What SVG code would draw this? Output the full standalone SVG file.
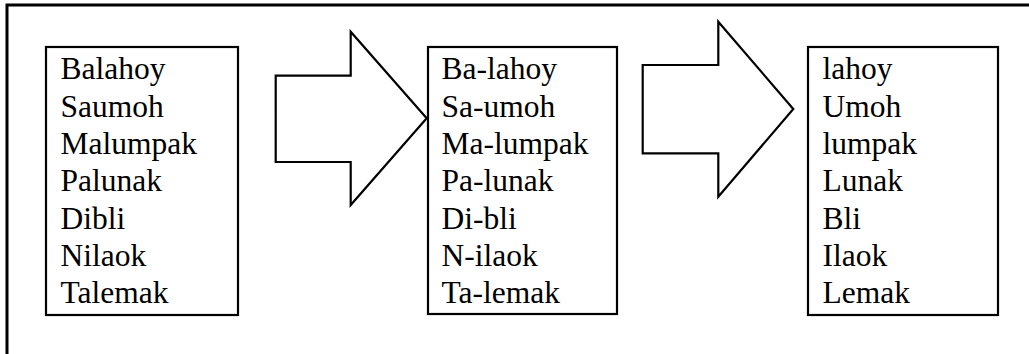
<svg xmlns="http://www.w3.org/2000/svg" width="1029" height="354" viewBox="0 0 1029 354">
<style>
.box{fill:#fff;stroke:#000;stroke-width:2.2}
.arrow{fill:#fff;stroke:#000;stroke-width:2.2;stroke-linejoin:miter}
.t{font-family:"Liberation Serif","Times New Roman",serif;font-size:31.5px;fill:#000}
</style>
<rect width="1029" height="354" fill="#fff"/>
<g id="frame"><path d="M7,356 L7,5 L1031,5" fill="none" stroke="#000" stroke-width="3"/></g>
<g id="box1">
<rect class="box" x="46" y="47" width="192" height="268"/>
<g class="t">
<text x="60.5" y="79.3">Balahoy</text>
<text x="60.5" y="116.6">Saumoh</text>
<text x="60.5" y="154">Malumpak</text>
<text x="60.5" y="191.3">Palunak</text>
<text x="60.5" y="228.6">Dibli</text>
<text x="60.5" y="266">Nilaok</text>
<text x="60.5" y="303.3">Talemak</text>
</g>
</g>
<g id="box2">
<rect class="box" x="428" y="47" width="189" height="267"/>
<g class="t">
<text x="441.5" y="79.3">Ba-lahoy</text>
<text x="441.5" y="116.6">Sa-umoh</text>
<text x="441.5" y="154">Ma-lumpak</text>
<text x="441.5" y="191.3">Pa-lunak</text>
<text x="441.5" y="228.6">Di-bli</text>
<text x="441.5" y="266">N-ilaok</text>
<text x="441.5" y="303.3">Ta-lemak</text>
</g>
</g>
<g id="box3">
<rect class="box" x="808" y="47" width="190" height="268"/>
<g class="t">
<text x="822.5" y="79.3">lahoy</text>
<text x="822.5" y="116.6">Umoh</text>
<text x="822.5" y="154">lumpak</text>
<text x="822.5" y="191.3">Lunak</text>
<text x="822.5" y="228.6">Bli</text>
<text x="822.5" y="266">Ilaok</text>
<text x="822.5" y="303.3">Lemak</text>
</g>
</g>
<g id="connectors">
<path class="arrow" d="M275.7,75.7 L350.7,75.7 L350.7,31.7 L426.7,118.3 L350.7,205 L350.7,162 L275.7,162 Z"/>
<path class="arrow" d="M642.7,65 L718.3,65 L718.3,21.7 L793.3,109 L718.3,196.7 L718.3,153.3 L642.7,153.3 Z"/>
</g>
</svg>
